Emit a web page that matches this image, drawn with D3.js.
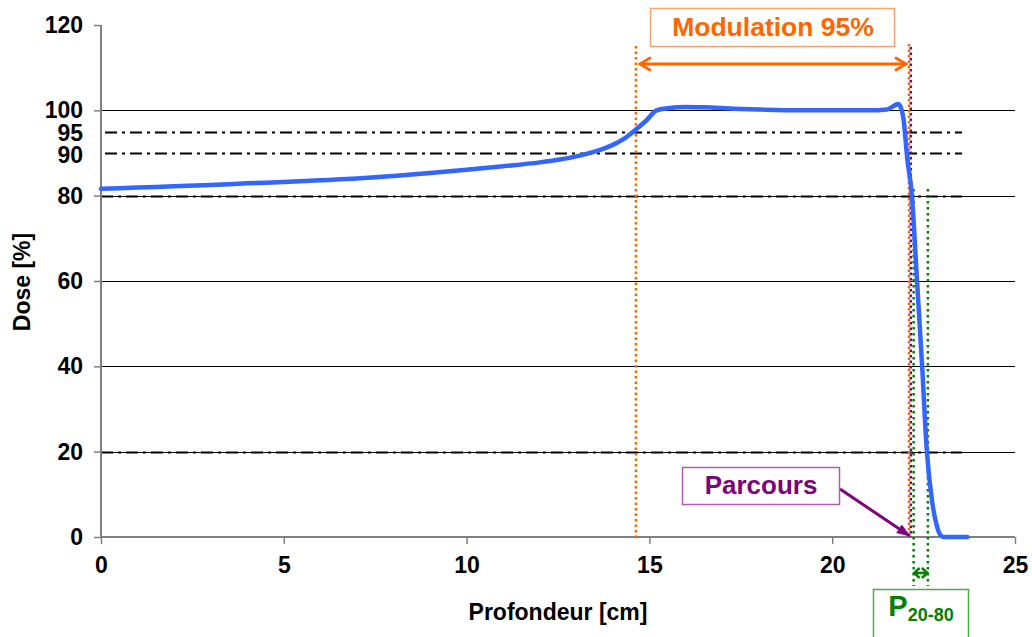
<!DOCTYPE html>
<html>
<head>
<meta charset="utf-8">
<script src="https://cdn.jsdelivr.net/npm/d3@7"></script>
<style>
  html, body { margin: 0; padding: 0; background: #fff; }
  svg { display: block; font-family: "Liberation Sans", Arial, sans-serif; }
</style>
</head>
<body>
<svg id="chart" width="1032" height="637"></svg>
<script>
// ---- data ----
const depthCm = [0, 1, 2, 3, 4, 5, 6, 7, 8, 9, 10, 11, 12, 12.5, 13, 13.5, 14, 14.3, 14.63, 14.9, 15.2, 15.5, 16, 16.5, 17.3, 18, 19.1, 20, 21, 21.5, 21.7, 21.8, 21.88, 21.95, 22.05, 22.18, 22.32, 22.46, 22.59, 22.73, 22.85, 22.95, 23.05, 23.7];
const dosePct = [81.6, 81.9, 82.2, 82.5, 82.9, 83.2, 83.6, 84.0, 84.6, 85.3, 86.1, 86.9, 87.8, 88.4, 89.2, 90.3, 91.9, 93.3, 95.5, 97.5, 100.0, 100.5, 100.8, 100.7, 100.4, 100.2, 100.0, 100.0, 100.0, 100.2, 101.1, 101.5, 100.6, 98.0, 89.0, 80.0, 60.0, 40.0, 20.0, 8.5, 3.0, 0.6, 0.0, 0.0];

const xTicks = [0, 5, 10, 15, 20, 25];
const yTicks = [0, 20, 40, 60, 80, 100, 120];
const gridLevels = [20, 40, 60, 80, 100];
const refLevels = [20, 80, 90, 95];      // dash-dot reference lines
const refLabels = [95, 90];              // extra y labels

const modulationRange = [14.63, 22.1];   // 95% modulation
const parcoursDepth = 22.15;
const p80Depth = 22.2;
const p20Depth = 22.59;

const labels = {
  xTitle: "Profondeur [cm]",
  yTitle: "Dose [%]",
  modulation: "Modulation 95%",
  parcours: "Parcours",
  penumbraMain: "P",
  penumbraSub: "20-80"
};

// ---- layout ----
const svg = d3.select("#chart");
const x = d3.scaleLinear().domain([0, 25]).range([101, 1015]);
const y = d3.scaleLinear().domain([0, 120]).range([537, 25]);

const orange = "#FF6600", purple = "#800080", green = "#008000", blue = "#3366FF";

// defs: arrow markers (tip at 0, wings behind)
const defs = svg.append("defs");
defs.append("marker").attr("id", "arrOrange").attr("viewBox", "-13 -8 15 16")
  .attr("refX", 0).attr("refY", 0).attr("markerWidth", 15).attr("markerHeight", 16)
  .attr("markerUnits", "userSpaceOnUse").attr("orient", "auto-start-reverse")
  .append("path").attr("d", "M-11,-6.5 L0,0 L-11,6.5").attr("fill", "none")
  .attr("stroke", orange).attr("stroke-width", 2.8).attr("stroke-linejoin", "miter");
defs.append("marker").attr("id", "arrGreen").attr("viewBox", "-8 -7 10 14")
  .attr("refX", 0).attr("refY", 0).attr("markerWidth", 10).attr("markerHeight", 14)
  .attr("markerUnits", "userSpaceOnUse").attr("orient", "auto-start-reverse")
  .append("path").attr("d", "M-5.5,-5 L0,0 L-5.5,5").attr("fill", "none")
  .attr("stroke", green).attr("stroke-width", 2.4);
defs.append("marker").attr("id", "arrPurple").attr("viewBox", "0 -6 14 12")
  .attr("refX", 13).attr("refY", 0).attr("markerWidth", 14).attr("markerHeight", 12)
  .attr("markerUnits", "userSpaceOnUse").attr("orient", "auto")
  .append("path").attr("d", "M0,-5 L14,0 L0,5 Z").attr("fill", purple);

// gridlines
svg.append("g").selectAll("line").data(gridLevels).join("line")
  .attr("x1", x(0)).attr("x2", x(25))
  .attr("y1", d => Math.round(y(d)) + 0.5).attr("y2", d => Math.round(y(d)) + 0.5)
  .attr("stroke", "#000").attr("stroke-width", 1);

// dash-dot reference lines
svg.append("g").selectAll("line").data(refLevels).join("line")
  .attr("x1", d => (d === 90 || d === 95) ? x(0) + 4 : x(0)).attr("x2", x(23.55))
  .attr("y1", d => Math.round(y(d)) + 0.5).attr("y2", d => Math.round(y(d)) + 0.5)
  .attr("stroke", "#000").attr("stroke-width", 2)
  .attr("stroke-dasharray", "12,5,3,5");

// axes
const xAxis = d3.axisBottom(x).tickValues(xTicks).tickSize(7).tickPadding(13).tickFormat(d3.format("d"));
const yAxis = d3.axisLeft(y).tickValues(yTicks).tickSize(7).tickPadding(11).tickFormat(d3.format("d"));

const gx = svg.append("g").attr("transform", `translate(0,${y(0)})`).call(xAxis);
const gy = svg.append("g").attr("transform", `translate(${x(0)},0)`).call(yAxis);
[gx, gy].forEach(g => {
  g.select(".domain").attr("stroke", "#808080").attr("stroke-width", 2);
  g.selectAll(".tick line").attr("stroke", "#808080").attr("stroke-width", 1.5);
  g.selectAll(".tick text").attr("fill", "#000").attr("font-size", 23)
    .attr("font-weight", "bold").attr("font-family", "'Liberation Sans', Arial, sans-serif");
});
gy.select(".domain").attr("d", `M0,${y(120)}V${y(0)}`);
gx.select(".domain").attr("d", `M0,0H${x(25) - x(0)}`).attr("transform", `translate(${x(0)},0)`);

// extra 95 / 90 labels
svg.append("g").selectAll("text").data(refLabels).join("text")
  .attr("x", x(0) - 18).attr("y", d => y(d) + (d === 95 ? 1.5 : 2)).attr("dy", "0.35em")
  .attr("text-anchor", "end").attr("font-size", 23).attr("font-weight", "bold")
  .text(d => d);

// axis titles
svg.append("text").attr("x", 558).attr("y", 620).attr("text-anchor", "middle")
  .attr("font-size", 23).attr("font-weight", "bold").text(labels.xTitle);
svg.append("text").attr("transform", `translate(30,${282}) rotate(-90)`).attr("text-anchor", "middle")
  .attr("font-size", 23).attr("font-weight", "bold").text(labels.yTitle);

// vertical dotted lines
svg.append("line").attr("x1", x(modulationRange[0])).attr("x2", x(modulationRange[0]))
  .attr("y1", 46).attr("y2", y(0)).attr("stroke", orange).attr("stroke-width", 2.5).attr("stroke-dasharray", "2.5,3");
svg.append("line").attr("x1", x(modulationRange[1])).attr("x2", x(modulationRange[1]))
  .attr("y1", 44).attr("y2", y(0)).attr("stroke", orange).attr("stroke-width", 2.5).attr("stroke-dasharray", "2.5,3");
svg.append("line").attr("x1", x(parcoursDepth)).attr("x2", x(parcoursDepth))
  .attr("y1", 44).attr("y2", y(0)).attr("stroke", purple).attr("stroke-width", 2.5)
  .attr("stroke-dasharray", "2.5,3").attr("stroke-dashoffset", 2.5);
[p80Depth, p20Depth].forEach(d => {
  svg.append("line").attr("x1", x(d) + 1).attr("x2", x(d) + 1)
    .attr("y1", 189).attr("y2", 586).attr("stroke", green).attr("stroke-width", 2.5)
    .attr("stroke-dasharray", "2.5,3.5");
});

// dose curve
const pts = depthCm.map((d, i) => [d, dosePct[i]]);
svg.append("path").datum(pts)
  .attr("d", d3.line().x(d => x(d[0])).y(d => y(d[1])).curve(d3.curveMonotoneX))
  .attr("fill", "none").attr("stroke", blue).attr("stroke-width", 4.5)
  .attr("stroke-linejoin", "round").attr("stroke-linecap", "round");

// modulation arrow + box
svg.append("line").attr("x1", x(modulationRange[0]) + 4).attr("x2", x(modulationRange[1]) - 3)
  .attr("y1", 64).attr("y2", 64).attr("stroke", orange).attr("stroke-width", 3)
  .attr("marker-start", "url(#arrOrange)").attr("marker-end", "url(#arrOrange)");
svg.append("rect").attr("x", 650.5).attr("y", 8.5).attr("width", 244).attr("height", 38)
  .attr("fill", "#fff").attr("stroke", "#F7A36B").attr("stroke-width", 1.5);
svg.append("text").attr("x", 773).attr("y", 36).attr("text-anchor", "middle")
  .attr("font-size", 26.5).attr("font-weight", "bold").attr("fill", orange).text(labels.modulation);

// parcours box + arrow
svg.append("line").attr("x1", 840).attr("y1", 489).attr("x2", x(parcoursDepth) - 1).attr("y2", y(0) - 1)
  .attr("stroke", purple).attr("stroke-width", 3).attr("marker-end", "url(#arrPurple)");
svg.append("rect").attr("x", 682.5).attr("y", 467.5).attr("width", 157).attr("height", 37)
  .attr("fill", "#fff").attr("stroke", "#B05CB0").attr("stroke-width", 1.5);
svg.append("text").attr("x", 761).attr("y", 494).attr("text-anchor", "middle")
  .attr("font-size", 26).attr("font-weight", "bold").attr("fill", purple).text(labels.parcours);

// penumbra arrow + box
svg.append("line").attr("x1", x(p80Depth) + 1.5).attr("x2", x(p20Depth) + 0.5).attr("y1", 573).attr("y2", 573)
  .attr("stroke", green).attr("stroke-width", 2.6)
  .attr("marker-start", "url(#arrGreen)").attr("marker-end", "url(#arrGreen)");
svg.append("rect").attr("x", 873.5).attr("y", 589.5).attr("width", 95).attr("height", 60)
  .attr("fill", "#fff").attr("stroke", "#4CA64C").attr("stroke-width", 1.5);
const pt = svg.append("text").attr("x", 921).attr("y", 616).attr("text-anchor", "middle")
  .attr("font-weight", "bold").attr("fill", green);
pt.append("tspan").attr("font-size", 29).text(labels.penumbraMain);
pt.append("tspan").attr("font-size", 18).attr("dy", 5).text(labels.penumbraSub);
</script>
</body>
</html>
